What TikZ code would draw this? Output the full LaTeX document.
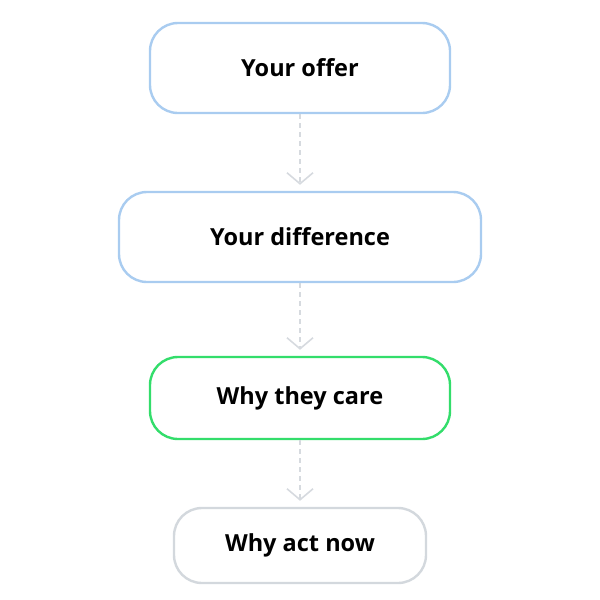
\documentclass[tikz,border=0pt]{standalone}
\usepackage{fontspec}
\setmainfont{Open Sans}
\usetikzlibrary{arrows.meta}
\definecolor{offerblue}{HTML}{A9CCF0}
\definecolor{caregreen}{HTML}{33DD6B}
\definecolor{nowgray}{HTML}{D3D8DD}
\definecolor{linkgray}{HTML}{D6DADF}
\tikzset{
	stepbox/.style={draw, line width=2.4pt, rounded corners=28pt, fill=white, font=\fontsize{23.5}{27}\selectfont\bfseries, text=black},
	link/.style={draw=linkgray, line width=1.6pt, dash pattern=on 5pt off 4pt, -{Straight Barb[length=11pt,width=26pt,line width=1.6pt]}, shorten >=6pt}
}

\begin{document}
\begin{tikzpicture}[x=1pt, y=-1pt]
			%%%%% START %%%%%
			
			\useasboundingbox (0, 0) rectangle (600, 600);
			
			\node[stepbox, draw=offerblue, minimum width=300pt, minimum height=90pt] (offer) at (300, 68) {Your offer};
			\node[stepbox, draw=offerblue, minimum width=362pt, minimum height=90pt] (diff) at (300, 237) {Your difference};
			\node[stepbox, draw=caregreen, minimum width=300pt, minimum height=82pt] (care) at (300, 398) {Why they care};
			\node[stepbox, draw=nowgray, minimum width=252pt, minimum height=75pt] (now) at (300, 545.5) {Why act now};
			
			\draw[link] (offer) -- (diff);
			\draw[link] (diff) -- (care);
			\draw[link] (care) -- (now);
			
			%%%%% END %%%%%
		\end{tikzpicture}
\end{document}
